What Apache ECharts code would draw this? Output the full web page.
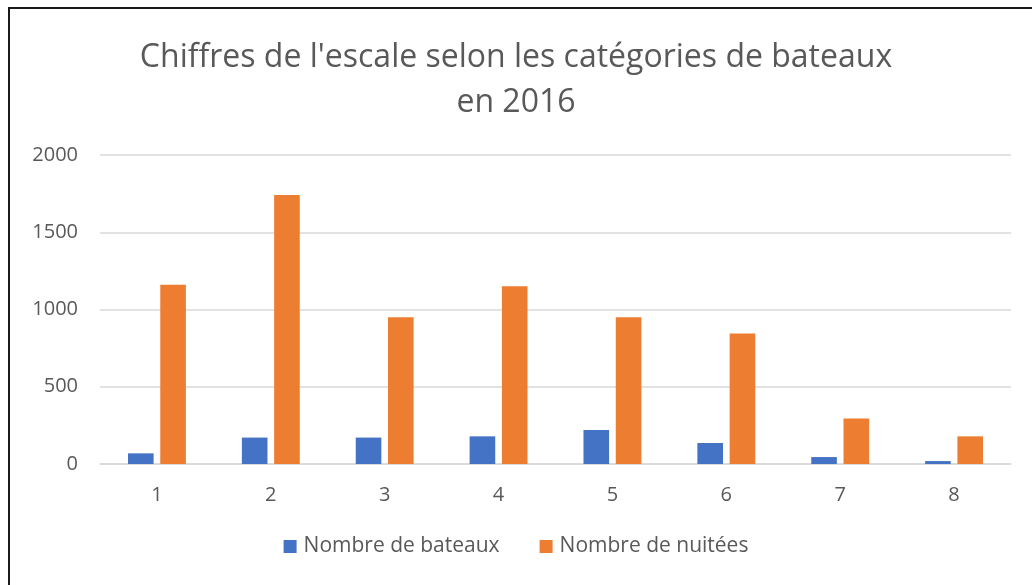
<!DOCTYPE html>
<html>
<head>
<meta charset="utf-8">
<script src="https://cdn.jsdelivr.net/npm/echarts@6/dist/echarts.min.js"></script>
<style>
  html, body { margin: 0; padding: 0; background: #fff; }
  #chart { width: 1032px; height: 585px; }
</style>
</head>
<body>
<div id="chart"></div>
<script>
const categories = ['1', '2', '3', '4', '5', '6', '7', '8']
const nombreBateaux = [69, 171, 171, 179, 220, 136, 45, 19]
const nombreNuitees = [1160, 1741, 950, 1151, 950, 845, 294, 179]
const yTicks = [0, 500, 1000, 1500, 2000]

const font = '"Open Sans", "Noto Sans", sans-serif'
const grey = '#595959'

const chart = echarts.init(document.getElementById('chart'))
const option = {
  backgroundColor: '#fff',
  animation: false,
  graphic: [
    {
      type: 'rect',
      shape: { x: 9, y: 8, width: 1100, height: 700 },
      style: { fill: 'none', stroke: '#1a1a1a', lineWidth: 2 },
      silent: true
    }
  ],
  title: {
    text: "Chiffres de l'escale selon les catégories de bateaux\nen 2016",
    left: 'center',
    top: 30,
    textStyle: {
      fontFamily: font,
      fontSize: 32,
      fontWeight: 'normal',
      color: grey,
      lineHeight: 45
    }
  },
  legend: {
    bottom: 23,
    left: 'center',
    itemWidth: 13,
    itemHeight: 13,
    itemGap: 40,
    icon: 'rect',
    textStyle: { fontFamily: font, fontSize: 21, color: grey, padding: [0, 0, 0, 2] },
    data: ['Nombre de bateaux', 'Nombre de nuitées']
  },
  grid: {
    left: 100,
    right: 21,
    top: 155,
    bottom: 121,
    containLabel: false
  },
  xAxis: {
    type: 'category',
    data: categories,
    axisLine: { lineStyle: { color: '#d9d9d9', width: 1.5 } },
    axisTick: { show: false },
    axisLabel: { fontFamily: font, fontSize: 20, color: grey, margin: 21 }
  },
  yAxis: {
    type: 'value',
    min: yTicks[0],
    max: yTicks[yTicks.length - 1],
    interval: 500,
    axisLine: { show: false },
    axisTick: { show: false },
    axisLabel: {
      fontFamily: font,
      fontSize: 20,
      color: grey,
      margin: 22,
      formatter: (v) => String(v)
    },
    splitLine: { lineStyle: { color: '#d9d9d9', width: 1.5 } }
  },
  series: [
    {
      name: 'Nombre de bateaux',
      type: 'bar',
      data: nombreBateaux,
      barWidth: '22.5%',
      barGap: '26%',
      itemStyle: { color: '#4472C4' }
    },
    {
      name: 'Nombre de nuitées',
      type: 'bar',
      data: nombreNuitees,
      barWidth: '22.5%',
      barGap: '26%',
      itemStyle: { color: '#ED7D31' }
    }
  ]
}
chart.setOption(option)
</script>
</body>
</html>
